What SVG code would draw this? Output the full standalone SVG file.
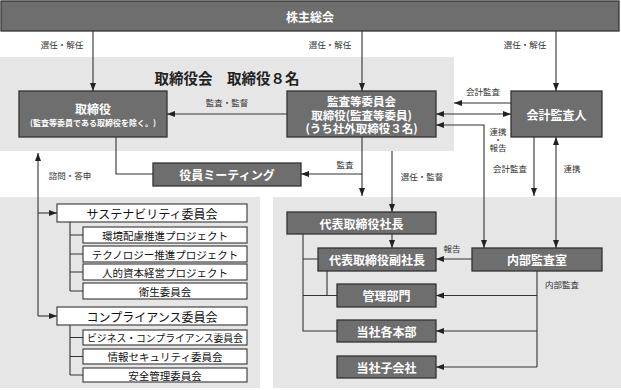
<svg xmlns="http://www.w3.org/2000/svg" width="621" height="390" viewBox="0 0 621 390">
<style>
.bg{fill:#e6e6e6}
.dk{fill:#6e6e6e;stroke:#333;stroke-width:1.3}
.wt{fill:#fff;stroke:#333;stroke-width:1.1}
.t{font-family:"Noto Sans CJK JP","Noto Sans",sans-serif;text-anchor:middle;dominant-baseline:central}
.tw{fill:#fff;font-weight:bold}
.tb{fill:#222;font-weight:bold}
.tk{fill:#111}
.lb{fill:#333;font-size:8.5px}
.c{fill:none;stroke:#333;stroke-width:1.1}
.ca{marker-end:url(#ah)}
.cs{marker-start:url(#ahs)}
</style>
<defs>
<marker id="ah" viewBox="0 0 8 8" refX="8" refY="4" markerWidth="8" markerHeight="8" markerUnits="userSpaceOnUse" orient="auto"><path d="M0,1 L8,4 L0,7 Z" fill="#222"/></marker>
<marker id="ahs" viewBox="0 0 8 8" refX="0" refY="4" markerWidth="8" markerHeight="8" markerUnits="userSpaceOnUse" orient="auto"><path d="M8,1 L0,4 L8,7 Z" fill="#222"/></marker>
</defs>
<rect class="bg" x="0" y="57" width="454" height="94"/>
<rect class="bg" x="0" y="197" width="260" height="191"/>
<rect class="bg" x="273" y="197" width="348" height="191"/>
<text class="t tb" x="227" y="77" font-size="14.5">取締役会　取締役８名</text>
<g id="connectors">
<path class="c ca" d="M93 31V91"/>
<path class="c ca" d="M362 31V91"/>
<path class="c ca" d="M556 31V91"/>
<path class="c ca" d="M287 114H167"/>
<path class="c" d="M116 137V174H153"/>
<path class="c ca" d="M362 137V174H301"/>
<path class="c ca" d="M362 174V196"/>
<path class="c ca" d="M392 151V212"/>
<path class="c ca" d="M511 103H454"/>
<path class="c ca cs" d="M436 114H511"/>
<path class="c ca cs" d="M436 125H484V248"/>
<path class="c ca" d="M534 137V196"/>
<path class="c ca cs" d="M556 137V248"/>
<path class="c cs" d="M38 153V316"/>
<path class="c ca" d="M38 213H57"/>
<path class="c ca" d="M38 316H57"/>
<path class="c" d="M70 222V291M70 235H83M70 254H83M70 272H83M70 291H83"/>
<path class="c" d="M70 325V375M70 337.5H83M70 356.5H83M70 375H83"/>
<path class="c ca" d="M392 234V248"/>
<path class="c" d="M303 234V331H337M303 259H318M303 295.5H337M327 271V295.5"/>
<path class="c ca" d="M472 259H436"/>
<path class="c" d="M537 271V367"/>
<path class="c ca" d="M537 295.5H436"/>
<path class="c ca" d="M537 331H436"/>
<path class="c ca" d="M537 367H436"/>
</g>
<g id="labels">
<text class="t lb" x="62" y="44">選任・解任</text>
<text class="t lb" x="330" y="44">選任・解任</text>
<text class="t lb" x="525" y="44">選任・解任</text>
<text class="t lb" x="227" y="102">監査・監督</text>
<text class="t lb" x="483" y="91">会計監査</text>
<text class="t lb" x="498" y="131"><tspan x="498" y="131">連携</tspan><tspan x="498" y="139">・</tspan><tspan x="498" y="147">報告</tspan></text>
<text class="t lb" x="345" y="164">監査</text>
<text class="t lb" x="422" y="176">選任・監督</text>
<text class="t lb" x="510" y="168">会計監査</text>
<text class="t lb" x="572" y="168">連携</text>
<text class="t lb" x="70" y="175">諮問・答申</text>
<text class="t lb" x="452" y="248">報告</text>
<text class="t lb" x="562" y="284">内部監査</text>
</g>
<g id="shareholders">
<rect class="dk" x="1" y="1" width="618" height="30"/>
<text class="t tw" x="310" y="16" font-size="12">株主総会</text>
</g>
<g id="directors">
<rect class="dk" x="19" y="91" width="148" height="46"/>
<text class="t tw" x="93" y="108" font-size="12">取締役</text>
<text class="t tw" x="93" y="122" font-size="8">(監査等委員である取締役を除く。)</text>
</g>
<g id="audit-committee">
<rect class="dk" x="287" y="91" width="149" height="46"/>
<text class="t tw" x="361.5" y="101" font-size="11.5"><tspan x="361.5" y="101">監査等委員会</tspan><tspan x="361.5" y="114.5">取締役(監査等委員)</tspan><tspan x="361.5" y="128">(うち社外取締役３名)</tspan></text>
</g>
<g id="accounting-auditor">
<rect class="dk" x="511" y="91" width="91" height="46"/>
<text class="t tw" x="556.5" y="114" font-size="12">会計監査人</text>
</g>
<g id="officers-meeting">
<rect class="dk" x="153" y="163" width="148" height="23"/>
<text class="t tw" x="227" y="174.5" font-size="12">役員ミーティング</text>
</g>
<g id="sustainability">
<rect class="wt" x="57" y="204" width="190" height="18"/>
<text class="t tk" x="152" y="213" font-size="12">サステナビリティ委員会</text>
</g>
<g id="env"><rect class="wt" x="83" y="227" width="164" height="16"/><text class="t tk" x="165" y="235" font-size="10.5">環境配慮推進プロジェクト</text></g>
<g id="tech"><rect class="wt" x="83" y="246" width="164" height="16"/><text class="t tk" x="165" y="254" font-size="10.5">テクノロジー推進プロジェクト</text></g>
<g id="human"><rect class="wt" x="83" y="264" width="164" height="16"/><text class="t tk" x="165" y="272" font-size="10.5">人的資本経営プロジェクト</text></g>
<g id="health"><rect class="wt" x="83" y="283" width="164" height="16"/><text class="t tk" x="165" y="291" font-size="10.5">衛生委員会</text></g>
<g id="compliance">
<rect class="wt" x="57" y="307" width="190" height="18"/>
<text class="t tk" x="152" y="316" font-size="12">コンプライアンス委員会</text>
</g>
<g id="biz"><rect class="wt" x="83" y="330" width="164" height="15"/><text class="t tk" x="165" y="337.5" font-size="9.8">ビジネス・コンプライアンス委員会</text></g>
<g id="infosec"><rect class="wt" x="83" y="349" width="164" height="15"/><text class="t tk" x="165" y="356.5" font-size="10.5">情報セキュリティ委員会</text></g>
<g id="safety"><rect class="wt" x="83" y="368" width="164" height="14"/><text class="t tk" x="165" y="375" font-size="10.5">安全管理委員会</text></g>
<g id="president">
<rect class="dk" x="287" y="212" width="149" height="22"/>
<text class="t tw" x="361.5" y="223" font-size="12">代表取締役社長</text>
</g>
<g id="vice-president">
<rect class="dk" x="318" y="248" width="118" height="23"/>
<text class="t tw" x="377" y="259.5" font-size="12">代表取締役副社長</text>
</g>
<g id="internal-audit">
<rect class="dk" x="472" y="248" width="130" height="23"/>
<text class="t tw" x="537" y="259.5" font-size="12">内部監査室</text>
</g>
<g id="admin">
<rect class="dk" x="337" y="284" width="99" height="23"/>
<text class="t tw" x="386.5" y="295.5" font-size="12">管理部門</text>
</g>
<g id="divisions">
<rect class="dk" x="337" y="320" width="99" height="22"/>
<text class="t tw" x="386.5" y="331" font-size="12">当社各本部</text>
</g>
<g id="subsidiaries">
<rect class="dk" x="337" y="356" width="99" height="22"/>
<text class="t tw" x="386.5" y="367" font-size="12">当社子会社</text>
</g>
</svg>
